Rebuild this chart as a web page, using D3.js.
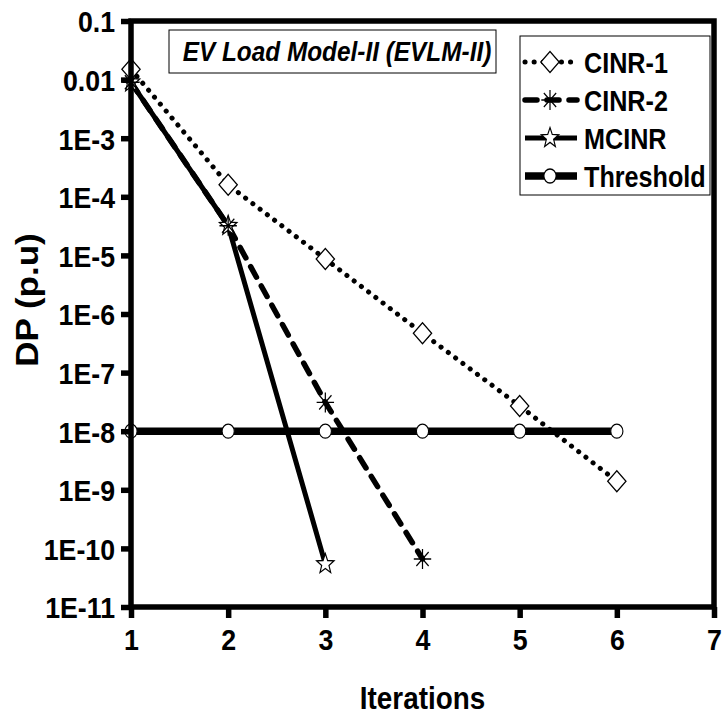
<!DOCTYPE html>
<html>
<head>
<meta charset="utf-8">
<script src="https://cdn.jsdelivr.net/npm/d3@7"></script>
<style>
  body { margin: 0; background: #fff; }
  text { font-family: "Liberation Sans", Arial, sans-serif; font-weight: bold; fill: #000; }
</style>
</head>
<body>
<svg id="chart" width="723" height="720"></svg>
<script>
// Convergence of the power mismatch (DP, p.u.) per iteration
const iterations = [1, 2, 3, 4, 5, 6];
const cinr1 = [1.5e-2, 1.6e-4, 8.7e-6, 4.7e-7, 2.7e-8, 1.4e-9];
const cinr2 = [9e-3, 3.2e-5, 3.1e-8, 6.6e-11];
const mcinr = [9e-3, 3.2e-5, 5.4e-11];
const threshold = [1e-8, 1e-8, 1e-8, 1e-8, 1e-8, 1e-8];
const seriesNames = ["CINR-1", "CINR-2", "MCINR", "Threshold"];
const xTicks = [1, 2, 3, 4, 5, 6, 7];
const yTicks = [1e-1, 1e-2, 1e-3, 1e-4, 1e-5, 1e-6, 1e-7, 1e-8, 1e-9, 1e-10, 1e-11];
const yTickLabels = ["0.1", "0.01", "1E-3", "1E-4", "1E-5", "1E-6", "1E-7", "1E-8", "1E-9", "1E-10", "1E-11"];
const titleText = "EV Load Model-II (EVLM-II)";

const svg = d3.select("#chart");
const plot = { left: 131, right: 714, top: 21, bottom: 607 };
const squeeze = 0.87;   // horizontal squeeze applied to glyphs and markers

const x = d3.scaleLinear().domain([1, 7]).range([plot.left, plot.right]);
const y = d3.scaleLog().domain([1e-11, 0.1]).range([plot.bottom, plot.top]);

// squeeze text along its baseline while keeping its anchor
function condense(sel, factor) {
  sel.each(function () {
    const w = this.getComputedTextLength();
    d3.select(this).attr("textLength", (w * factor).toFixed(1)).attr("lengthAdjust", "spacingAndGlyphs");
  });
}

// marker shapes
function diamondPath(r) { return `M0,${-r}L${r},0L0,${r}L${-r},0Z`; }
function starPath(R, r) {
  let p = "";
  for (let i = 0; i < 10; i++) {
    const a = -Math.PI / 2 + i * Math.PI / 5;
    const rr = i % 2 === 0 ? R : r;
    p += (i === 0 ? "M" : "L") + (rr * Math.cos(a)).toFixed(2) + "," + (rr * Math.sin(a)).toFixed(2);
  }
  return p + "Z";
}
function asteriskPath(r) {
  const d = r * Math.SQRT1_2;
  return `M0,${-r}L0,${r}M${-r},0L${r},0M${-d},${-d}L${d},${d}M${-d},${d}L${d},${-d}`;
}

const styles = {
  "CINR-1":    { values: cinr1, width: 5, dash: "0.1 9", cap: "round",
                 marker: g => g.append("path").attr("d", diamondPath(10.5)).attr("fill", "#fff").attr("stroke", "#000").attr("stroke-width", 1.4) },
  "CINR-2":    { values: cinr2, width: 5.5, dash: "12 10", cap: "round",
                 marker: g => g.append("path").attr("d", asteriskPath(10)).attr("fill", "none").attr("stroke", "#000").attr("stroke-width", 1.4) },
  "MCINR":     { values: mcinr, width: 5, dash: null, cap: "butt",
                 marker: g => g.append("path").attr("d", starPath(10.5, 4.4)).attr("fill", "#fff").attr("stroke", "#000").attr("stroke-width", 1.3) },
  "Threshold": { values: threshold, width: 7.5, dash: null, cap: "butt",
                 marker: g => g.append("circle").attr("r", 7).attr("fill", "#fff").attr("stroke", "#000").attr("stroke-width", 1.3) }
};

const line = d3.line().x(d => x(d[0])).y(d => y(d[1]));

const seriesLayer = svg.append("g");
seriesNames.slice().reverse().forEach(name => {
  const s = styles[name];
  const pts = s.values.map((v, i) => [iterations[i], v]);
  seriesLayer.append("path")
    .attr("d", line(pts))
    .attr("fill", "none")
    .attr("stroke", "#000")
    .attr("stroke-width", s.width)
    .attr("stroke-linecap", s.cap)
    .attr("stroke-dasharray", s.dash);
});
seriesNames.slice().reverse().forEach(name => {
  const s = styles[name];
  s.values.forEach((v, i) => {
    const g = seriesLayer.append("g")
      .attr("transform", `translate(${x(iterations[i])},${y(v)}) scale(${squeeze},1)`);
    s.marker(g);
  });
});

// title box
const titleG = svg.append("g");
titleG.append("rect").attr("x", 169).attr("y", 30).attr("width", 327).attr("height", 43)
  .attr("fill", "#fff").attr("stroke", "#000").attr("stroke-width", 1);
titleG.append("text").attr("x", 337).attr("y", 51).attr("dy", "0.36em")
  .attr("text-anchor", "middle")
  .style("font-style", "italic").style("font-size", "28px")
  .text(titleText)
  .call(condense, squeeze);

// legend
const legend = svg.append("g");
legend.append("rect").attr("x", 520).attr("y", 36).attr("width", 190).attr("height", 159)
  .attr("fill", "#fff").attr("stroke", "#000").attr("stroke-width", 1);
seriesNames.forEach((name, i) => {
  const s = styles[name];
  const cy = 62 + i * 38;
  legend.append("line").attr("x1", 525).attr("x2", 577).attr("y1", cy).attr("y2", cy)
    .attr("stroke", "#000").attr("stroke-width", s.width)
    .attr("stroke-linecap", s.cap).attr("stroke-dasharray", s.dash);
  const g = legend.append("g").attr("transform", `translate(550,${cy}) scale(${squeeze},1)`);
  s.marker(g);
  legend.append("g").attr("transform", `translate(584,${cy}) scale(0.84,1)`)
    .append("text").attr("x", 0).attr("y", 0).attr("dy", "0.36em")
    .style("font-size", "30px").text(name);
});

// frame and axes, drawn over the marks
const yAxis = d3.axisLeft(y).tickValues(yTicks).tickSize(10).tickPadding(6)
  .tickFormat((d, i) => yTickLabels[i]);
const xAxis = d3.axisBottom(x).tickValues(xTicks).tickSize(11).tickPadding(6)
  .tickFormat(d3.format("d"));

const gy = svg.append("g").attr("transform", `translate(${plot.left},0)`).call(yAxis);
const gx = svg.append("g").attr("transform", `translate(0,${plot.bottom})`).call(xAxis);
[gy, gx].forEach(g => {
  g.select(".domain").remove();
  g.selectAll(".tick line").attr("stroke", "#000").attr("stroke-width", 5.5);
  g.selectAll(".tick text").style("font-size", "30px").call(condense, 0.89);
});
gy.selectAll(".tick text").attr("dy", "0.36em");
gx.selectAll(".tick text").attr("dy", "0.88em");

svg.append("rect")
  .attr("x", plot.left).attr("y", plot.top)
  .attr("width", plot.right - plot.left).attr("height", plot.bottom - plot.top)
  .attr("fill", "none").attr("stroke", "#000").attr("stroke-width", 5.5);

// axis titles
svg.append("text").attr("x", plot.left + (plot.right - plot.left) / 2).attr("y", 697)
  .attr("dy", "0.36em").attr("text-anchor", "middle").style("font-size", "32px").text("Iterations")
  .call(condense, squeeze);
svg.append("text").attr("transform", `translate(27,300) rotate(-90) scale(1,${squeeze})`)
  .attr("dy", "0.36em").attr("text-anchor", "middle").style("font-size", "35px").text("DP (p.u)");
</script>
</body>
</html>
